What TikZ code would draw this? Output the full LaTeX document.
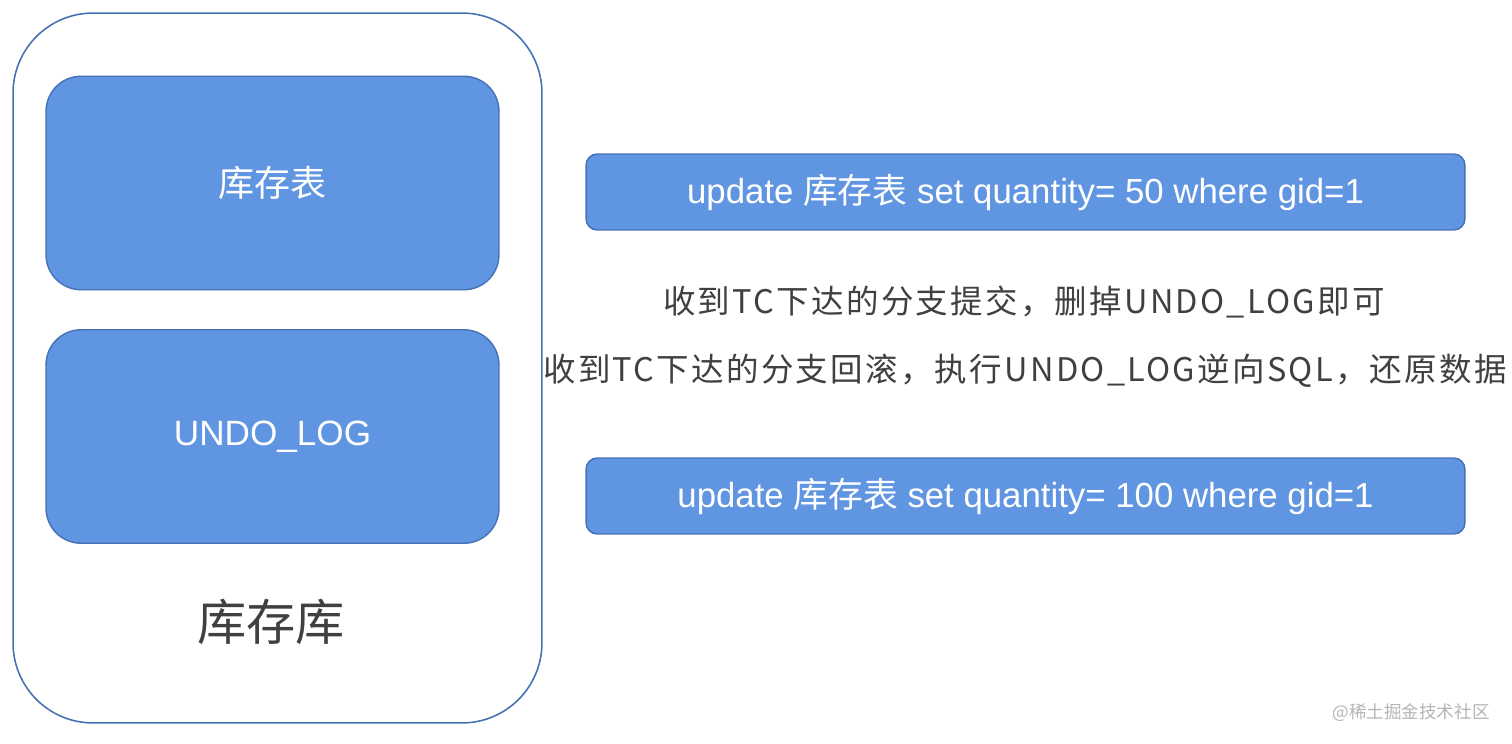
\documentclass[tikz,border=0pt]{standalone}
\usepackage{fontspec}
\setmainfont{Liberation Sans}
\newfontfamily\cjk{Noto Sans CJK SC}
\newfontfamily\cjkwide[LetterSpace=7]{Noto Sans CJK SC}
\usepackage{tikz}
\definecolor{DBFill}{HTML}{6095E2}
\definecolor{DBEdge}{HTML}{4472B4}
\definecolor{DBInk}{HTML}{404040}
\definecolor{DBMark}{HTML}{B4B4B4}

\begin{document}
\begin{tikzpicture}[
  x=0.02cm, y=-0.02cm,
  db/.style={draw=DBEdge, line width=0.9pt, rounded corners=1.6cm,
             minimum width=10.58cm, minimum height=14.2cm},
  tbl/.style={fill=DBFill, draw=DBEdge, line width=0.8pt, rounded corners=0.7cm,
              minimum width=9.06cm, minimum height=4.27cm, text=white},
  sql/.style={fill=DBFill, draw=DBEdge, line width=0.8pt, rounded corners=0.22cm,
              minimum width=17.58cm, minimum height=1.52cm, text=white,
              font=\fontsize{19.8}{23}\selectfont},
  note/.style={text=DBInk, font=\cjkwide\fontsize{18.5}{22}\selectfont},
]
\useasboundingbox (0,0) rectangle (1512,744);

% --- Database ---
\node[db] (stockdb) at (277.5,368) {};
\node[tbl, font=\cjk\fontsize{20.5}{24}\selectfont] (stocktbl) at (272.5,183) {库存表};
\node[tbl, font=\fontsize{20}{24}\selectfont] (undolog) at (272.5,436.5) {UNDO\_LOG};
\node[text=DBInk, font=\cjk\fontsize{28}{33}\selectfont] (dbname) at (271,622) {库存库};

% --- SQL ---
\node[sql] (forward) at (1025.5,192) {update {\cjk 库存表} set quantity= 50 where gid=1};
\node[sql] (backward) at (1025.5,496) {update {\cjk 库存表} set quantity= 100 where gid=1};

% Branch commit / rollback
\node[note] (commit) at (1024,302) {收到TC下达的分支提交，删掉UNDO\_LOG即可};
\node[note] (rollback) at (1025,371) {收到TC下达的分支回滚，执行UNDO\_LOG逆向SQL，还原数据};

% Watermark
\node[text=DBMark, font=\cjk\fontsize{10}{12}\selectfont] (mark) at (1411,713) {@稀土掘金技术社区};

\end{tikzpicture}
\end{document}
